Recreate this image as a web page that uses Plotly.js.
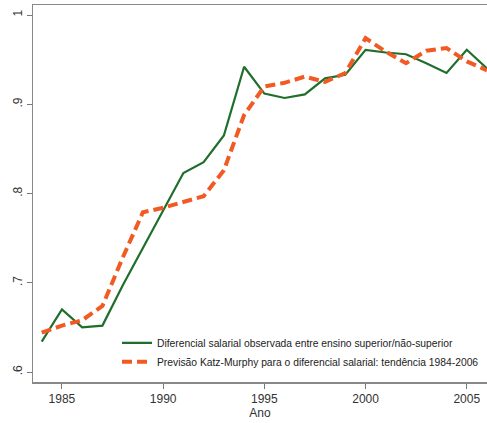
<!DOCTYPE html>
<html>
<head>
<meta charset="utf-8">
<script src="https://cdn.plot.ly/plotly-3.0.1.min.js"></script>
<style>html,body{margin:0;padding:0;overflow:hidden;background:#fff}</style>
</head>
<body>
<div id="chart" style="width:487px;height:423px"></div>
<script>
const years = [1984,1985,1986,1987,1988,1989,1990,1991,1992,1993,1994,1995,1996,1997,1998,1999,2000,2001,2002,2003,2004,2005,2006];
const observed = [0.634,0.670,0.650,0.652,0.697,0.739,0.782,0.823,0.835,0.865,0.942,0.912,0.907,0.911,0.929,0.933,0.961,0.958,0.956,0.946,0.935,0.961,0.940];
const predicted = [0.644,0.652,0.658,0.674,0.728,0.779,0.784,0.790,0.797,0.826,0.888,0.920,0.924,0.931,0.925,0.935,0.974,0.959,0.946,0.960,0.963,0.948,0.938];
const observedName = "Diferencial salarial observada entre ensino superior/não-superior";
const predictedName = "Previsão Katz-Murphy para o diferencial salarial: tendência 1984-2006";
const xTicks = [1985,1990,1995,2000,2005];
const yTicks = [0.6,0.7,0.8,0.9,1];
const yTickText = [".6",".7",".8",".9","1"];

const traces = [
  {x: years, y: observed, name: observedName, type: "scatter", mode: "lines",
   line: {color: "#1f6e2c", width: 2.2}},
  {x: years, y: predicted, name: predictedName, type: "scatter", mode: "lines",
   line: {color: "#f25a24", width: 4, dash: "10px,5px"}}
];

const layout = {
  width: 487, height: 423,
  margin: {l: 33, r: 0, t: 5, b: 41, autoexpand: false},
  paper_bgcolor: "#fff", plot_bgcolor: "#fff",
  font: {family: "Liberation Sans, Arial, sans-serif", color: "#333"},
  showlegend: true,
  legend: {x: 0.185, y: 0.015, xanchor: "left", yanchor: "bottom",
    bgcolor: "rgba(0,0,0,0)", font: {size: 10.3, color: "#222"}, itemwidth: 30},
  xaxis: {range: [1983.57, 2006.0], tickvals: xTicks, ticks: "outside", ticklen: 5,
    tickcolor: "#777", showline: true, linecolor: "#888", linewidth: 1.5, mirror: true,
    showgrid: false, zeroline: false, tickfont: {size: 12, color: "#333"},
    title: {text: "Ano", font: {size: 12, color: "#333"}, standoff: 2}},
  yaxis: {range: [0.5888, 1.0112], tickvals: yTicks, ticktext: yTickText, tickangle: -90,
    ticks: "outside", ticklen: 5, tickcolor: "#777", showline: true, linecolor: "#888",
    linewidth: 1.5, showgrid: false, zeroline: false, tickfont: {size: 12, color: "#333"}}
};

Plotly.newPlot("chart", traces, layout, {displayModeBar: false, staticPlot: true});
</script>
</body>
</html>
